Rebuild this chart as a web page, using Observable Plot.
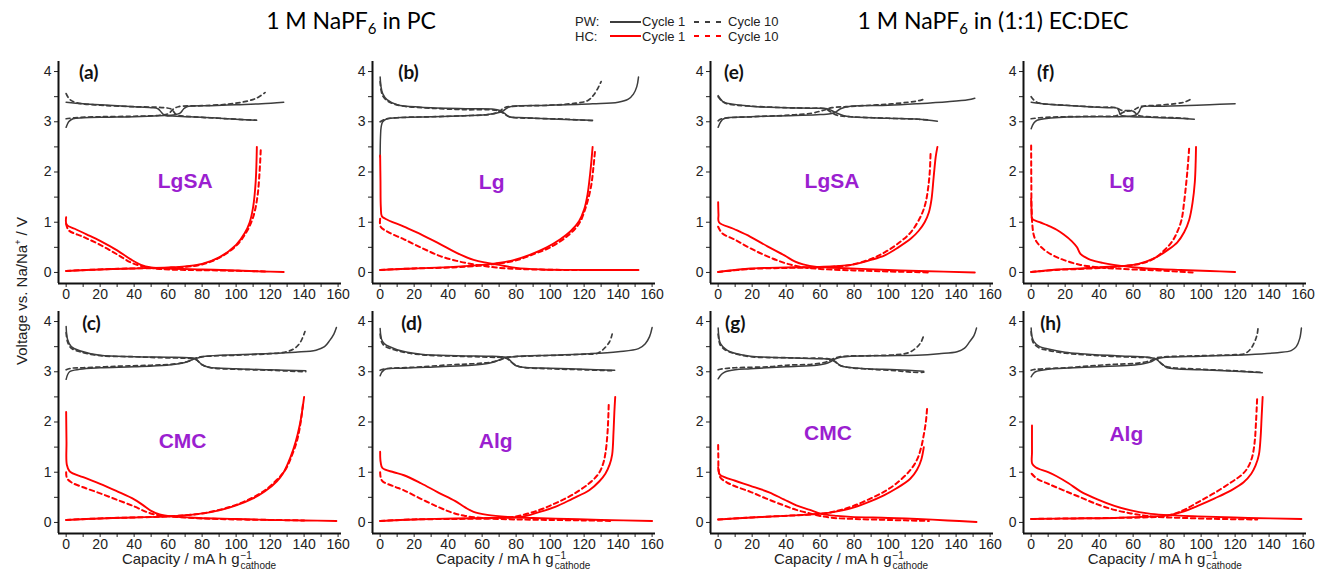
<!DOCTYPE html>
<html><head><meta charset="utf-8">
<script src="https://cdn.jsdelivr.net/npm/d3@7"></script>
<script src="https://cdn.jsdelivr.net/npm/@observablehq/plot@0.6"></script>
<style>
body{margin:0;background:#fff;}
#wrap{position:relative;width:1319px;height:578px;overflow:hidden;background:#fff;font-family:"Liberation Sans",Arial,sans-serif;color:#000;}
.title{position:absolute;font-family:Lato,"Open Sans",sans-serif;font-size:23px;line-height:23px;white-space:nowrap;transform:translateX(-50%);}
.title sub{font-size:15px;line-height:0;vertical-align:-5px;}
.leg{position:absolute;font-size:13px;line-height:13px;white-space:nowrap;color:#222;}
.xl{position:absolute;font-size:15px;line-height:16px;white-space:nowrap;transform:translateX(-50%);color:#222;}
.ss{position:relative;display:inline-block;font-size:10px;line-height:10px;margin-left:1px;}
.ss .sp{position:absolute;left:0;top:-5px;}
.ss .sb{position:relative;top:5px;}
.yl{position:absolute;font-size:15px;white-space:nowrap;transform:translate(-50%,-50%) rotate(-90deg);color:#222;}
.yl sup{font-size:9px;line-height:0;}
</style></head>
<body><div id="wrap"></div>
<script>
// ---------- categories / labels ----------
const panelKeys = ["a","b","c","d","e","f","g","h"];
const panelLetters = ["(a)","(b)","(c)","(d)","(e)","(f)","(g)","(h)"];
const binders = ["LgSA","Lg","CMC","Alg","LgSA","Lg","CMC","Alg"];
const binderX = [70, 65.6, 68.5, 68, 67, 53.5, 64.6, 56];
const binderY = [1.82, 1.79, 1.62, 1.61, 1.82, 1.82, 1.77, 1.75];
const letterX = [7.6, 10.6, 9.4, 12.4, 3.5, 3.5, 4, 5.3];
const letterY = [3.97, 3.97, 3.96, 3.96, 3.97, 3.97, 3.96, 3.96];
const titles = ["1 M NaPF<sub>6</sub> in PC", "1 M NaPF<sub>6</sub> in (1:1) EC:DEC"];
const xTicks = [0,10,20,30,40,50,60,70,80,90,100,110,120,130,140,150,160];
const yTicks = [0,0.5,1,1.5,2,2.5,3,3.5,4];

// ---------- series (capacity, voltage pairs) ----------
// (a) LgSA, PC
const a_pw1c = [0,2.89, 1.5,3.0, 4,3.06, 10,3.08, 25,3.09, 40,3.1, 55,3.12, 64,3.14, 67,3.17, 69,3.25, 71,3.3, 85,3.32, 100,3.34, 115,3.36, 128,3.39];
const a_pw1d = [0,3.39, 10,3.36, 25,3.33, 40,3.3, 50,3.28, 54,3.26, 56,3.19, 58,3.13, 65,3.11, 80,3.09, 95,3.06, 112,3.03];
const a_pw10c = [0,3.06, 5,3.08, 20,3.1, 40,3.11, 55,3.13, 60,3.16, 63,3.25, 66,3.3, 80,3.32, 95,3.35, 105,3.4, 112,3.47, 117,3.58];
const a_pw10d = [0,3.56, 2,3.45, 6,3.38, 20,3.33, 40,3.3, 58,3.28, 62,3.25, 65,3.14, 75,3.1, 90,3.07, 112,3.03];
const a_hc1c = [0,1.1, 0.3,0.95, 5,0.87, 12,0.76, 20,0.63, 30,0.44, 38,0.26, 44,0.15, 50,0.1, 60,0.08, 80,0.06, 100,0.04, 115,0.02, 128,0.01];
const a_hc1d = [0,0.03, 20,0.06, 40,0.08, 60,0.1, 70,0.12, 80,0.17, 90,0.3, 100,0.55, 105,0.78, 108,1.0, 110,1.3, 111.5,1.8, 112.2,2.5];
const a_hc10c = [0,0.97, 1.5,0.84, 10,0.71, 20,0.55, 30,0.36, 38,0.2, 45,0.12, 55,0.07, 70,0.05, 90,0.04, 117,0.02];
const a_hc10d = [0,0.03, 20,0.06, 40,0.08, 60,0.09, 70,0.11, 80,0.16, 90,0.29, 100,0.53, 106,0.8, 110,1.1, 112.5,1.5, 113.8,2.0, 114.5,2.45];
// (b) Lg, PC
const b_pw1c = [0,2.3, 0.2,2.7, 0.6,2.9, 1.5,3.0, 4,3.06, 10,3.08, 30,3.1, 50,3.12, 62,3.14, 68,3.17, 72,3.21, 75,3.28, 78,3.31, 100,3.33, 125,3.36, 140,3.39, 146,3.45, 149,3.55, 151,3.7, 152,3.89];
const b_pw1d = [0,3.89, 0.5,3.7, 1.5,3.56, 4,3.44, 10,3.34, 24,3.29, 53,3.26, 67,3.25, 70,3.23, 73,3.17, 76,3.1, 85,3.08, 105,3.05, 125,3.03];
const b_pw10c = [0,3.0, 3,3.05, 10,3.08, 30,3.1, 50,3.12, 65,3.15, 70,3.2, 73,3.28, 80,3.31, 100,3.33, 115,3.37, 122,3.42, 126,3.55, 130,3.8];
const b_pw10d = [0,3.8, 0.6,3.62, 1.8,3.5, 5,3.4, 12,3.32, 30,3.27, 50,3.24, 68,3.23, 72,3.18, 76,3.1, 90,3.07, 110,3.05, 125,3.02];
const b_hc1c = [0,2.33, 0.2,1.8, 0.4,1.3, 1,1.12, 3,1.07, 14,0.91, 24,0.76, 35,0.57, 45,0.39, 55,0.25, 63,0.19, 70,0.15, 80,0.09, 95,0.06, 120,0.05, 152,0.05];
const b_hc1d = [0,0.05, 20,0.08, 43,0.11, 60,0.15, 68,0.18, 78,0.24, 88,0.35, 98,0.5, 106,0.66, 112,0.82, 117,1.02, 120,1.25, 122,1.55, 123.5,1.95, 124.5,2.3, 125,2.5];
const b_hc10c = [0,1.07, 0.3,0.91, 5,0.8, 14,0.66, 25,0.48, 35,0.33, 45,0.23, 55,0.16, 65,0.11, 75,0.08, 90,0.06, 110,0.05, 130,0.05];
const b_hc10d = [0,0.05, 20,0.08, 43,0.1, 60,0.14, 70,0.18, 80,0.24, 90,0.36, 100,0.5, 110,0.72, 117,0.97, 121,1.3, 124,1.7, 125.5,2.1, 126.5,2.45];
// (c) CMC, PC
const c_pw1c = [0,2.85, 2,3.0, 8,3.05, 20,3.08, 40,3.1, 59,3.13, 68,3.17, 72,3.21, 75.5,3.26, 79,3.29, 82,3.31, 100,3.34, 117,3.36, 135,3.39, 147,3.43, 152,3.5, 155,3.62, 157.5,3.75, 159,3.88];
const c_pw1d = [0,3.9, 0.8,3.65, 3,3.5, 8,3.42, 20,3.33, 40,3.3, 60,3.29, 72,3.28, 76,3.26, 78,3.2, 80,3.14, 84,3.09, 100,3.06, 120,3.04, 141,3.02];
const c_pw10c = [0,3.04, 3,3.07, 10,3.08, 30,3.11, 50,3.13, 65,3.16, 72,3.21, 76,3.27, 80,3.3, 100,3.33, 120,3.36, 130,3.4, 135,3.48, 138,3.6, 140.5,3.8];
const c_pw10d = [0,3.78, 0.8,3.6, 3,3.47, 8,3.4, 20,3.32, 40,3.3, 55,3.28, 70,3.27, 76,3.25, 80,3.14, 85,3.08, 100,3.05, 120,3.03, 141,3.0];
const c_hc1c = [0,2.2, 0.2,1.6, 0.4,1.15, 2,1.02, 10,0.9, 20,0.77, 30,0.62, 40,0.46, 45,0.35, 50,0.23, 55,0.16, 62,0.12, 78,0.09, 100,0.07, 120,0.05, 140,0.04, 159,0.03];
const c_hc1d = [0,0.05, 20,0.08, 40,0.1, 60,0.12, 78,0.17, 90,0.24, 100,0.34, 110,0.48, 117,0.62, 124,0.82, 128,1.0, 132,1.3, 135,1.6, 137.5,1.95, 139,2.25, 140,2.5];
const c_hc10c = [0,1.0, 0.5,0.88, 3,0.8, 10,0.7, 20,0.58, 30,0.45, 40,0.32, 48,0.2, 55,0.14, 65,0.11, 80,0.08, 100,0.06, 120,0.05, 140,0.04];
const c_hc10d = [0,0.05, 20,0.08, 40,0.1, 60,0.12, 78,0.17, 90,0.25, 100,0.35, 110,0.5, 117,0.64, 124,0.85, 129,1.05, 133,1.35, 136,1.65, 138,2.0, 139.5,2.4];
// (d) Alg, PC
const d_pw1c = [0,2.92, 2.4,3.04, 14,3.07, 35,3.1, 54,3.13, 64,3.17, 69,3.22, 73,3.28, 79,3.3, 100,3.33, 123,3.36, 140,3.4, 152,3.46, 156,3.56, 158.5,3.7, 160,3.88];
const d_pw1d = [0,3.86, 0.8,3.65, 2.4,3.56, 10,3.44, 24,3.35, 45,3.32, 64,3.31, 71,3.3, 75,3.27, 78,3.17, 80,3.12, 84,3.09, 100,3.07, 120,3.05, 138,3.03];
const d_pw10c = [0,3.03, 3,3.06, 20,3.09, 42,3.14, 55,3.16, 65,3.19, 70,3.23, 75,3.29, 85,3.31, 105,3.33, 120,3.35, 128,3.37, 132,3.47, 135,3.6, 136.5,3.75];
const d_pw10d = [0,3.75, 0.8,3.6, 2.4,3.52, 10,3.42, 24,3.34, 45,3.31, 65,3.29, 74,3.27, 78,3.17, 82,3.1, 100,3.06, 120,3.04, 137,3.02];
const d_hc1c = [0,1.41, 0.3,1.2, 1.4,1.08, 8,1.0, 14,0.94, 24,0.78, 34,0.6, 44,0.43, 50,0.3, 55,0.21, 63,0.15, 75,0.11, 90,0.09, 110,0.07, 130,0.05, 160,0.03];
const d_hc1d = [0,0.03, 20,0.06, 44,0.08, 65,0.09, 83,0.11, 93,0.2, 103,0.31, 113,0.47, 123,0.64, 129,0.82, 132.5,0.97, 135,1.15, 136.5,1.35, 137.3,1.8, 137.8,2.2, 138.3,2.5];
const d_hc10c = [0,1.0, 0.3,0.9, 1.4,0.82, 8,0.72, 14,0.64, 24,0.47, 34,0.31, 42,0.2, 50,0.13, 63,0.08, 80,0.06, 100,0.05, 120,0.04, 137,0.03];
const d_hc10d = [0,0.03, 20,0.06, 44,0.07, 65,0.08, 80,0.12, 93,0.24, 103,0.38, 113,0.55, 123,0.78, 128.5,0.97, 131,1.15, 132.5,1.37, 133.8,1.8, 134.5,2.37];
// (e) LgSA, EC:DEC
const e_pw1c = [0,2.89, 1.5,3.0, 3.3,3.06, 19,3.1, 40,3.12, 58,3.14, 66,3.16, 69,3.19, 72,3.26, 78,3.31, 100,3.33, 117,3.36, 135,3.4, 147,3.44, 151,3.47];
const e_pw1d = [0,3.52, 1.5,3.45, 3.3,3.39, 19,3.31, 40,3.28, 55,3.27, 64,3.26, 67,3.22, 70,3.17, 74,3.12, 78,3.1, 100,3.07, 118,3.05, 129,3.01];
const e_pw10c = [0,3.02, 2,3.06, 20,3.1, 35,3.12, 45,3.14, 55,3.17, 62,3.23, 67,3.28, 75,3.3, 85,3.32, 100,3.35, 112,3.39, 118,3.42, 122,3.46];
const e_pw10d = [0,3.5, 2,3.42, 5,3.36, 20,3.31, 40,3.28, 55,3.27, 63,3.26, 66,3.2, 70,3.13, 78,3.1, 100,3.07, 118,3.05, 125,3.03];
const e_hc1c = [0,1.4, 0.2,1.15, 0.5,1.0, 9,0.87, 19,0.71, 29,0.52, 39,0.34, 45,0.22, 50,0.16, 58,0.11, 78,0.08, 100,0.05, 118,0.03, 151,0.0];
const e_hc1d = [0,0.01, 10,0.05, 19,0.08, 40,0.1, 58,0.11, 78,0.15, 90,0.25, 98,0.34, 106,0.5, 113.6,0.68, 118,0.83, 121.5,1.0, 124,1.2, 125.5,1.45, 126.8,1.9, 128,2.3, 129,2.5];
const e_hc10c = [0,0.91, 2.4,0.78, 10,0.65, 19,0.48, 29,0.32, 39,0.19, 48.6,0.11, 60,0.07, 80,0.04, 100,0.02, 125,0.0];
const e_hc10d = [0,0.01, 19,0.07, 40,0.09, 58,0.1, 70,0.12, 78,0.15, 90,0.27, 98,0.4, 106,0.58, 113.6,0.81, 119.5,1.14, 122,1.38, 123.5,1.67, 124.5,2.0, 125,2.4];
// (f) Lg, EC:DEC
const f_pw1c = [0,2.86, 1.5,2.97, 3.5,3.03, 19,3.09, 40,3.1, 58,3.11, 62,3.14, 63.5,3.2, 65,3.29, 75,3.31, 88,3.32, 105,3.34, 120,3.36];
const f_pw1d = [0,3.39, 10,3.35, 29,3.31, 45,3.28, 50.6,3.27, 51.8,3.2, 52.5,3.14, 56,3.11, 70,3.09, 85,3.07, 96,3.05];
const f_pw10c = [0,3.06, 5,3.08, 20,3.1, 40,3.11, 50,3.12, 55,3.2, 60,3.23, 64,3.3, 75,3.33, 85,3.36, 90,3.39, 94,3.45];
const f_pw10d = [0,3.5, 2,3.42, 5,3.37, 20,3.33, 40,3.29, 50,3.28, 53,3.23, 60,3.21, 63,3.13, 70,3.1, 85,3.08, 94,3.06];
const f_hc1c = [0,1.47, 0.3,1.2, 0.6,1.07, 5,1.0, 9.4,0.94, 15,0.85, 19,0.76, 24,0.62, 27,0.5, 29,0.37, 32,0.3, 35,0.25, 42,0.19, 48.6,0.15, 58,0.11, 68,0.08, 88,0.05, 105,0.03, 120,0.01];
const f_hc1d = [0,0.01, 15,0.06, 29,0.08, 48.6,0.12, 60,0.15, 68,0.22, 74,0.31, 80,0.44, 86,0.6, 90,0.8, 93,1.05, 95,1.4, 96.3,1.8, 96.8,2.2, 97,2.5];
const f_hc10c = [0,2.53, 0.1,1.8, 0.4,1.1, 1.5,0.75, 3,0.62, 6,0.5, 9.4,0.41, 14,0.32, 19,0.25, 29,0.15, 40,0.1, 48.6,0.08, 60,0.06, 75,0.04, 95,0.0];
const f_hc10d = [0,0.01, 15,0.05, 29,0.07, 45,0.1, 58,0.14, 65,0.18, 72,0.27, 78,0.43, 83,0.62, 86,0.81, 88.5,1.05, 90,1.4, 91.3,1.8, 92.2,2.13, 93,2.5];
// (g) CMC, EC:DEC
const g_pw1c = [0,2.86, 2,2.95, 4.3,3.0, 10,3.04, 19,3.06, 40,3.1, 58,3.13, 63,3.16, 66,3.2, 69,3.26, 72,3.29, 78,3.31, 100,3.32, 117,3.33, 130,3.36, 140.6,3.4, 145,3.47, 148,3.6, 150.5,3.72, 152,3.87];
const g_pw1d = [0,3.87, 0.6,3.65, 1.4,3.56, 4,3.46, 7,3.4, 19,3.31, 40,3.28, 58,3.26, 66,3.25, 69,3.2, 72,3.12, 76,3.09, 88,3.06, 105,3.04, 121,3.01];
const g_pw10c = [0,3.04, 3,3.06, 10,3.08, 30,3.1, 40,3.13, 55,3.15, 63,3.19, 67,3.25, 72,3.3, 90,3.32, 105,3.34, 112,3.38, 117,3.49, 119.5,3.6, 121,3.73];
const g_pw10d = [0,3.75, 0.6,3.6, 1.4,3.52, 4,3.44, 8,3.38, 19,3.3, 40,3.28, 50,3.27, 64,3.26, 68,3.22, 71,3.14, 76,3.09, 90,3.05, 105,3.02, 115,2.99, 121,2.99];
const g_hc1c = [0,1.1, 0.5,0.98, 1.4,0.94, 10,0.83, 19,0.73, 30,0.6, 38.6,0.46, 46,0.34, 54,0.25, 58,0.2, 62,0.16, 70,0.13, 78,0.11, 100,0.09, 117,0.07, 135,0.04, 152,0.01];
const g_hc1d = [0,0.06, 20,0.1, 38.6,0.13, 50,0.15, 62,0.18, 70,0.22, 78,0.28, 88,0.4, 97.5,0.54, 105,0.68, 113,0.87, 117,1.05, 119.5,1.25, 121,1.5];
const g_hc10c = [0,1.54, 0.1,1.3, 0.3,1.05, 1.4,0.89, 5,0.8, 10,0.72, 19,0.61, 28,0.48, 38.6,0.34, 46,0.25, 54,0.18, 60,0.13, 68,0.09, 80,0.07, 100,0.05, 124,0.03];
const g_hc10d = [0,0.06, 20,0.1, 38.6,0.13, 50,0.15, 62,0.18, 70,0.23, 78,0.31, 88,0.45, 97.5,0.61, 105,0.78, 113,1.04, 117,1.25, 119.5,1.5, 121,1.75, 122.2,2.0, 123,2.3];
// (h) Alg, EC:DEC
const h_pw1c = [0,2.9, 1.2,2.96, 2.6,3.0, 10,3.05, 19,3.07, 40,3.1, 58.7,3.13, 66,3.16, 70.5,3.2, 74,3.26, 80,3.29, 100,3.31, 127.6,3.34, 145,3.38, 153,3.42, 156,3.5, 158,3.66, 159,3.87];
const h_pw1d = [0,3.87, 0.5,3.7, 1.6,3.6, 5,3.5, 9.4,3.46, 20,3.39, 29,3.36, 50,3.32, 68.5,3.29, 72,3.27, 74,3.24, 76,3.18, 78,3.13, 80,3.08, 100,3.04, 120,3.01, 136,2.98];
const h_pw10c = [0,3.03, 3,3.05, 20,3.08, 40,3.13, 50,3.15, 62,3.17, 70,3.22, 74,3.28, 80,3.3, 100,3.32, 120,3.34, 125.6,3.36, 129,3.45, 131.5,3.6, 133,3.75, 133.5,3.88];
const h_pw10d = [0,3.8, 0.5,3.65, 1.6,3.56, 5,3.47, 9.4,3.43, 20,3.37, 40,3.32, 60,3.29, 70,3.28, 74,3.25, 77,3.15, 80,3.1, 100,3.05, 120,3.02, 135,2.99];
const h_hc1c = [0.5,1.93, 0.5,1.4, 0.6,1.17, 2.6,1.1, 10,1.0, 15,0.92, 22,0.78, 29,0.62, 39,0.46, 49,0.33, 58.7,0.24, 68.5,0.18, 78,0.15, 98,0.12, 127.6,0.09, 159,0.07];
const h_hc1d = [0,0.07, 25,0.08, 49,0.09, 65,0.11, 80,0.14, 90,0.22, 98,0.33, 108,0.48, 117.7,0.64, 125,0.8, 129.5,0.97, 132,1.13, 134,1.35, 135,1.7, 135.6,2.1, 136.2,2.5];
const h_hc10c = [0.3,0.97, 3.5,0.87, 10,0.77, 19,0.64, 29,0.5, 39,0.36, 49,0.25, 58.7,0.18, 66,0.14, 74,0.11, 90,0.09, 110,0.07, 133,0.06];
const h_hc10d = [0,0.07, 25,0.08, 49,0.09, 65,0.1, 80,0.13, 90,0.25, 98,0.4, 108,0.59, 117.7,0.8, 124,0.95, 127.6,1.1, 130,1.3, 131.5,1.6, 132.3,2.0, 133,2.5];

const curveSets = {
  a: [a_pw10c, a_pw10d, a_pw1c, a_pw1d, a_hc10c, a_hc10d, a_hc1c, a_hc1d],
  b: [b_pw10c, b_pw10d, b_pw1c, b_pw1d, b_hc10c, b_hc10d, b_hc1c, b_hc1d],
  c: [c_pw10c, c_pw10d, c_pw1c, c_pw1d, c_hc10c, c_hc10d, c_hc1c, c_hc1d],
  d: [d_pw10c, d_pw10d, d_pw1c, d_pw1d, d_hc10c, d_hc10d, d_hc1c, d_hc1d],
  e: [e_pw10c, e_pw10d, e_pw1c, e_pw1d, e_hc10c, e_hc10d, e_hc1c, e_hc1d],
  f: [f_pw10c, f_pw10d, f_pw1c, f_pw1d, f_hc10c, f_hc10d, f_hc1c, f_hc1d],
  g: [g_pw10c, g_pw10d, g_pw1c, g_pw1d, g_hc10c, g_hc10d, g_hc1c, g_hc1d],
  h: [h_pw10c, h_pw10d, h_pw1c, h_pw1d, h_hc10c, h_hc10d, h_hc1c, h_hc1d]
};

// ---------- styles & layout ----------
const GRAY = "#3d3d3d", RED = "#ff0000", PURPLE = "#9b1fd0";
const curveStyle = [
  {stroke: GRAY, dash: "4,3.5", w: 1.7}, {stroke: GRAY, dash: "4,3.5", w: 1.7},
  {stroke: GRAY, dash: null, w: 1.5}, {stroke: GRAY, dash: null, w: 1.5},
  {stroke: RED, dash: "4.5,3.5", w: 2}, {stroke: RED, dash: "4.5,3.5", w: 2},
  {stroke: RED, dash: null, w: 1.9}, {stroke: RED, dash: null, w: 1.9}
];
const XDOM = [-4.5, 162], YDOM = [-0.22, 4.2];
const AX = [57.5, 371.7, 709.5, 1023.3], TOP = [61, 311];
const grid = {a:[0,0], b:[1,0], c:[0,1], d:[1,1], e:[2,0], f:[3,0], g:[2,1], h:[3,1]};
const ML = 40, MR = 12, MT = 10, MB = 30, FW = 283, FH = 222;

const pts = arr => d3.range(0, arr.length, 2).map(i => ({x: arr[i], y: arr[i + 1]}));
const wrap = document.getElementById("wrap");

panelKeys.forEach((k, i) => {
  const [c, r] = grid[k];
  const lines = curveSets[k].map((arr, j) => Plot.line(pts(arr), {
    x: "x", y: "y", stroke: curveStyle[j].stroke, strokeWidth: curveStyle[j].w,
    strokeDasharray: curveStyle[j].dash || undefined, curve: "catmull-rom"
  }));
  const svg = Plot.plot({
    width: ML + FW + MR, height: MT + FH + MB,
    marginLeft: ML, marginRight: MR, marginTop: MT, marginBottom: MB,
    x: {domain: XDOM, ticks: xTicks, tickFormat: d => d % 20 === 0 ? d : "", tickSize: 4, tickPadding: 2, label: null},
    y: {domain: YDOM, ticks: yTicks, tickFormat: d => Number.isInteger(d) ? d : "", tickSize: 4, tickPadding: 3, label: null},
    style: {background: "transparent", overflow: "visible", fontSize: "14px", fontFamily: "'Liberation Sans', Arial, sans-serif", color: "#222"},
    marks: [
      ...lines,
      Plot.ruleY([YDOM[0]], {stroke: "#111", strokeWidth: 2}),
      Plot.ruleX([XDOM[0]], {stroke: "#111", strokeWidth: 2}),
      Plot.text([panelLetters[i]], {x: () => letterX[i], y: () => letterY[i], text: d => d, textAnchor: "start",
        fontWeight: "bold", fontSize: 19, fontFamily: "Lato, 'Open Sans', sans-serif", fill: "#111"}),
      Plot.text([binders[i]], {x: () => binderX[i], y: () => binderY[i], text: d => d,
        fontWeight: "bold", fontSize: 21, fontFamily: "'Liberation Sans', Arial, sans-serif", fill: PURPLE})
    ]
  });
  svg.style.position = "absolute";
  svg.style.left = (AX[c] - ML) + "px";
  svg.style.top = (TOP[r] - MT) + "px";
  wrap.appendChild(svg);
  if (r === 1) {
    const xl = document.createElement("div");
    xl.className = "xl";
    xl.style.left = (AX[c] + FW / 2) + "px";
    xl.style.top = "551px";
    xl.innerHTML = 'Capacity / mA h g<span class="ss"><span class="sp">\u22121</span><span class="sb">cathode</span></span>';
    wrap.appendChild(xl);
  }
});

// titles
[[351, titles[0]], [993, titles[1]]].forEach(([cx, t]) => {
  const el = document.createElement("div");
  el.className = "title"; el.style.left = cx + "px"; el.style.top = "9px"; el.innerHTML = t;
  wrap.appendChild(el);
});

// y label
const yl = document.createElement("div");
yl.className = "yl"; yl.style.left = "21px"; yl.style.top = "291px";
yl.innerHTML = "Voltage vs. Na/Na<sup>+</sup> / V";
wrap.appendChild(yl);

// legend
const legRows = [["PW:", GRAY, 21.5], ["HC:", RED, 36]];
legRows.forEach(([lab, col, cy]) => {
  const add = (html, left) => {
    const el = document.createElement("div");
    el.className = "leg"; el.style.left = left + "px"; el.style.top = (cy - 6.5) + "px"; el.innerHTML = html;
    wrap.appendChild(el);
  };
  add(lab, 575);
  add("Cycle 1", 642);
  add("Cycle 10", 728);
  const sv = d3.create("svg").attr("width", 120).attr("height", 6)
    .style("position", "absolute").style("left", "608px").style("top", (cy - 3) + "px");
  sv.append("line").attr("x1", 2).attr("x2", 33).attr("y1", 3).attr("y2", 3).attr("stroke", col).attr("stroke-width", 2);
  sv.append("line").attr("x1", 86).attr("x2", 116).attr("y1", 3).attr("y2", 3).attr("stroke", col).attr("stroke-width", 2).attr("stroke-dasharray", "5,6");
  wrap.appendChild(sv.node());
});
</script></body></html>
